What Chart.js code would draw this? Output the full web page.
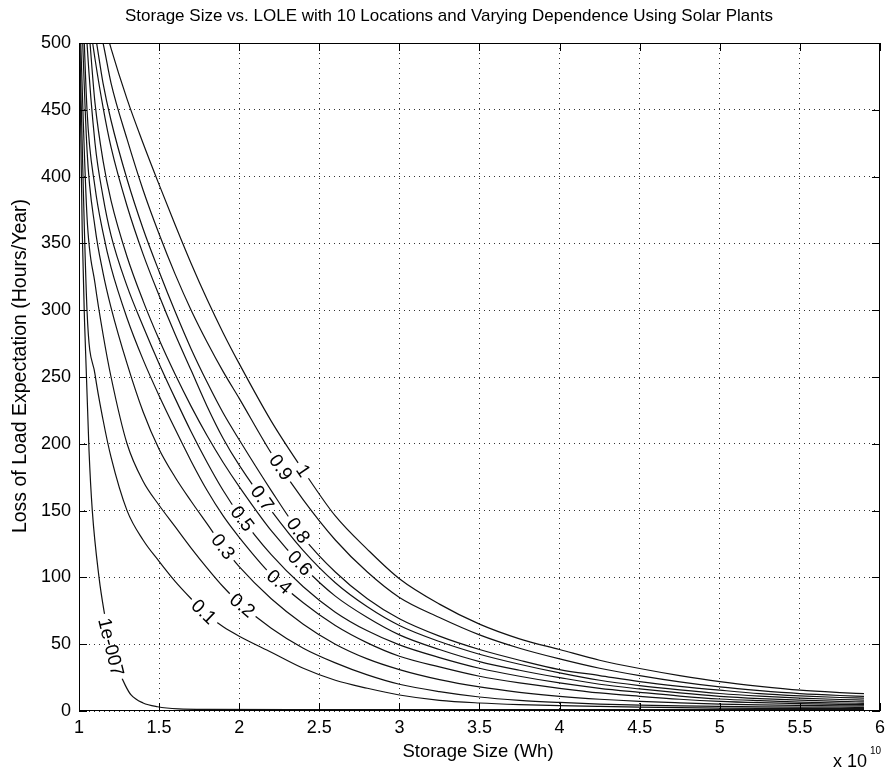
<!DOCTYPE html>
<html>
<head>
<meta charset="utf-8">
<script src="https://cdn.jsdelivr.net/npm/chart.js@4.4.1/dist/chart.umd.min.js"></script>
<style>
  html, body { margin: 0; padding: 0; background: #fff; }
</style>
</head>
<body>
<canvas id="loleChart" width="891" height="774"></canvas>
<script>
// storage size, in units of 1e10 Wh
const storage = [1.0, 1.05, 1.1, 1.15, 1.2, 1.3, 1.4, 1.5, 1.6, 1.7, 1.8, 1.9, 2.0, 2.2, 2.4, 2.6, 2.8, 3.0,
                 3.25, 3.5, 3.75, 4.0, 4.25, 4.5, 4.75, 5.0, 5.25, 5.5, 5.75, 5.9];

// LOLE (hours/year) for each dependence level
const lole01 = [520, 300, 252, 218, 190, 150, 128, 112, 97, 84, 72, 63, 56, 44, 32, 23, 17, 12, 8, 6, 4.8, 4.0, 3.4, 2.9, 2.5, 2.2, 2.0, 1.9, 1.8, 1.8];
const lole02 = [540, 370, 320, 282, 250, 200, 172, 154, 138, 122, 107, 93, 81, 62, 47, 36, 27, 20, 14.5, 10.5, 8, 6.4, 5.2, 4.4, 3.8, 3.4, 3.1, 2.9, 2.8, 2.7];
const lole03 = [580, 420, 362, 328, 302, 260, 224, 196, 175, 157, 140, 123, 108, 84, 65, 50, 39, 31, 23.5, 18, 14, 11, 8.8, 7.2, 6.1, 5.2, 4.6, 4.2, 3.9, 3.8];
const lole04 = [620, 450, 392, 358, 332, 294, 263, 236, 211, 187, 165, 146, 130, 102, 81, 64, 51, 41, 33, 26, 21, 17, 13.5, 11, 8.8, 7.2, 6.2, 5.5, 5.0, 4.8];
const lole05 = [620, 500, 425, 385, 356, 318, 288, 260, 234, 209, 186, 165, 147, 117, 93, 74, 60, 49.5, 40, 32, 26, 21, 17, 14, 11.2, 9, 7.7, 6.7, 6.0, 5.7];
const lole06 = [560, 525, 455, 412, 382, 340, 307, 278, 252, 228, 206, 186, 168, 135, 108, 86, 70, 57, 46, 37, 30.5, 25, 20, 16.5, 13.5, 11, 9.3, 8.1, 7.2, 6.8];
const lole07 = [570, 530, 488, 452, 422, 378, 342, 311, 282, 255, 228, 204, 184, 150, 120, 96, 78, 64, 52, 42.5, 35, 28.5, 23, 19, 15.8, 13.1, 11.1, 9.6, 8.6, 8.2];
const lole08 = [570, 535, 507, 470, 442, 398, 361, 329, 299, 271, 246, 223, 203, 165, 130, 104, 84, 69, 56, 46, 38, 31, 26.5, 22, 18.5, 15.6, 13, 11.3, 10.1, 9.6];
const lole09 = [575, 545, 522, 500, 470, 428, 390, 357, 327, 300, 276, 254, 234, 193, 158, 128, 104, 85, 70, 57, 47, 39, 32, 26.5, 21.8, 18, 15.2, 13, 11.6, 11];
const lole10 = [580, 560, 540, 518, 496, 458, 425, 394, 364, 335, 308, 283, 260, 217, 180, 146, 121, 99, 80, 65, 54, 46, 38, 31.8, 26.5, 22, 18.5, 15.6, 13.8, 13];

// the near-independent case has its own, finer storage steps
const storageIndep = [1.0, 1.01, 1.02, 1.035, 1.0625, 1.083, 1.125, 1.156, 1.2, 1.25, 1.29, 1.325, 1.4, 1.49, 1.62, 1.8, 2.5, 3.5, 4.5, 5.9];
const loleIndep = [560, 440, 360, 290, 195, 150, 100, 75, 48, 30, 19, 12, 6, 3.2, 1.6, 1.2, 1.1, 1.1, 1.1, 1.1];

const dependence = ['1e-007', '0.1', '0.2', '0.3', '0.4', '0.5', '0.6', '0.7', '0.8', '0.9', '1'];
// storage size where each contour label sits
const labelAt = [1.2, 1.78, 2.02, 1.9, 2.25, 2.02, 2.38, 2.145, 2.37, 2.26, 2.4];

const xTicks = [1, 1.5, 2, 2.5, 3, 3.5, 4, 4.5, 5, 5.5, 6];
const yTicks = [0, 50, 100, 150, 200, 250, 300, 350, 400, 450, 500];

const FONT = "'Liberation Sans', Arial, sans-serif";
const labelFont = '19px ' + FONT;

const curves = [loleIndep, lole01, lole02, lole03, lole04, lole05, lole06, lole07, lole08, lole09, lole10];

const datasets = curves.map((vals, i) => {
  const xs = i === 0 ? storageIndep : storage;
  return {
    label: dependence[i],
    labelAt: labelAt[i],
    data: xs.map((x, k) => ({ x: x, y: vals[k] })),
    borderColor: '#111',
    borderWidth: 1.2,
    pointRadius: 0,
    fill: false,
    cubicInterpolationMode: 'monotone'
  };
});

function interpAt(pts, x) {
  for (let i = 1; i < pts.length; i++) {
    if (x <= pts[i].x) {
      const t = (x - pts[i - 1].x) / (pts[i].x - pts[i - 1].x);
      return pts[i - 1].y + t * (pts[i].y - pts[i - 1].y);
    }
  }
  return pts[pts.length - 1].y;
}

// where a label goes on its curve and how it is turned
function labelBox(chart, i) {
  const ds = chart.data.datasets[i];
  const sx = chart.scales.x, sy = chart.scales.y;
  const d = 0.03;
  const xl = ds.labelAt;
  const ax = sx.getPixelForValue(xl - d), ay = sy.getPixelForValue(interpAt(ds.data, xl - d));
  const bx = sx.getPixelForValue(xl + d), by = sy.getPixelForValue(interpAt(ds.data, xl + d));
  chart.ctx.save();
  chart.ctx.font = labelFont;
  const w = chart.ctx.measureText(ds.label).width;
  chart.ctx.restore();
  return {
    cx: sx.getPixelForValue(xl),
    cy: sy.getPixelForValue(interpAt(ds.data, xl)),
    angle: Math.atan2(by - ay, bx - ax),
    w: w,
    text: ds.label
  };
}

// inline contour labels: break the line under the text, then write the value
const contourLabels = {
  id: 'contourLabels',
  beforeDatasetDraw(chart, args) {
    const b = labelBox(chart, args.index);
    const ctx = chart.ctx;
    const c = Math.cos(b.angle), s = Math.sin(b.angle);
    const hw = b.w / 2 + 4, hh = 5;
    const pts = [[-hw, -hh], [hw, -hh], [hw, hh], [-hw, hh]]
      .map(([u, v]) => [b.cx + u * c - v * s, b.cy + u * s + v * c]);
    ctx.save();
    ctx.beginPath();
    ctx.rect(0, 0, chart.width, chart.height);
    ctx.moveTo(pts[0][0], pts[0][1]);
    for (let k = 1; k < 4; k++) ctx.lineTo(pts[k][0], pts[k][1]);
    ctx.closePath();
    ctx.clip('evenodd');
  },
  afterDatasetDraw(chart) {
    chart.ctx.restore();
  },
  afterDatasetsDraw(chart) {
    const ctx = chart.ctx;
    chart.data.datasets.forEach((ds, i) => {
      const b = labelBox(chart, i);
      ctx.save();
      ctx.translate(b.cx, b.cy);
      ctx.rotate(b.angle);
      ctx.font = labelFont;
      ctx.fillStyle = '#000';
      ctx.textAlign = 'center';
      ctx.textBaseline = 'middle';
      ctx.fillText(b.text, 0, 1);
      ctx.restore();
    });
  }
};

// box, inward ticks, titles and the exponent note
const axesFrame = {
  id: 'axesFrame',
  afterDraw(chart) {
    const ctx = chart.ctx;
    const a = chart.chartArea;
    const sx = chart.scales.x, sy = chart.scales.y;
    ctx.save();
    ctx.strokeStyle = '#000';
    ctx.lineWidth = 1;
    ctx.strokeRect(a.left + 0.5, a.top + 0.5, a.right - a.left - 1, a.bottom - a.top - 1);
    ctx.beginPath();
    const tl = 8;
    xTicks.forEach(v => {
      const p = Math.round(sx.getPixelForValue(v)) + 0.5;
      ctx.moveTo(p, a.bottom); ctx.lineTo(p, a.bottom - tl);
      ctx.moveTo(p, a.top); ctx.lineTo(p, a.top + tl);
    });
    yTicks.forEach(v => {
      const p = Math.round(sy.getPixelForValue(v)) + 0.5;
      ctx.moveTo(a.left, p); ctx.lineTo(a.left + tl, p);
      ctx.moveTo(a.right, p); ctx.lineTo(a.right - tl, p);
    });
    ctx.stroke();

    ctx.fillStyle = '#000';
    ctx.textAlign = 'center';
    ctx.textBaseline = 'middle';
    ctx.font = '17px ' + FONT;
    ctx.fillText('Storage Size vs. LOLE with 10 Locations and Varying Dependence Using Solar Plants', 449, 16);
    ctx.font = '18.5px ' + FONT;
    ctx.fillText('Storage Size (Wh)', 478, 752);

    ctx.save();
    ctx.translate(21, 366);
    ctx.rotate(-Math.PI / 2);
    ctx.font = '19.5px ' + FONT;
    ctx.fillText('Loss of Load Expectation (Hours/Year)', 0, 0);
    ctx.restore();

    ctx.textAlign = 'left';
    ctx.font = '18px ' + FONT;
    ctx.fillText('x 10', 833, 762);
    ctx.font = '10px ' + FONT;
    ctx.fillText('10', 870, 751);
    ctx.restore();
  }
};

Chart.defaults.font.family = FONT;
Chart.defaults.font.size = 18;
Chart.defaults.color = '#000';

const gridStyle = {
  color: 'rgba(0,0,0,0.8)',
  lineWidth: 1,
  drawTicks: false
};

new Chart(document.getElementById('loleChart'), {
  type: 'line',
  data: { datasets: datasets },
  options: {
    responsive: false,
    animation: false,
    devicePixelRatio: 1,
    layout: { padding: { top: 43, right: 10, left: 0, bottom: 0 } },
    plugins: {
      legend: { display: false },
      tooltip: { enabled: false }
    },
    scales: {
      x: {
        type: 'linear',
        min: 1,
        max: 6,
        afterBuildTicks: s => { s.ticks = xTicks.map(v => ({ value: v })); },
        ticks: { padding: 6, callback: v => String(v) },
        grid: gridStyle,
        border: { display: false, dash: [1, 4] },
        afterFit: s => { s.height = 63; }
      },
      y: {
        type: 'linear',
        min: 0,
        max: 500,
        afterBuildTicks: s => { s.ticks = yTicks.map(v => ({ value: v })); },
        ticks: { padding: 8 },
        grid: gridStyle,
        border: { display: false, dash: [1, 4] },
        afterFit: s => { s.width = 79; }
      }
    }
  },
  plugins: [contourLabels, axesFrame]
});
</script>
</body>
</html>
